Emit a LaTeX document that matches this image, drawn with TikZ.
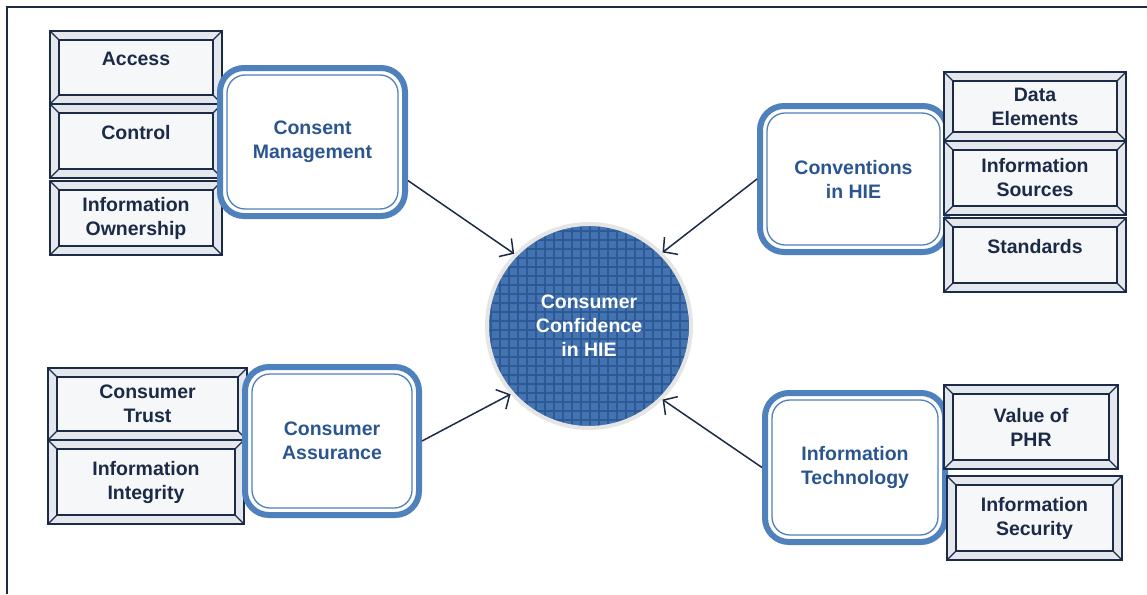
\documentclass[tikz,border=0pt]{standalone}
\usepackage{fontspec}
\setmainfont{Liberation Sans}
\usetikzlibrary{arrows.meta}
\definecolor{navy}{HTML}{1B2A47}
\definecolor{bblue}{HTML}{4F81BD}
\definecolor{tblue}{HTML}{2B5590}
\definecolor{cfill}{HTML}{4373B0}
\definecolor{cgrid}{HTML}{2D5A95}
\definecolor{clight}{HTML}{7196C8}
\definecolor{bevelc}{HTML}{E4E7EC}
\definecolor{innerc}{HTML}{F6F7F9}
\tikzset{
  txt/.style={font=\bfseries\fontsize{19.5}{24}\selectfont, align=center},
  bevelbox/.style={txt, draw=navy, line width=2pt, fill=bevelc, text=navy, inner sep=0pt,
    path picture={
      \fill[innerc] ([shift={(9pt,9pt)}]path picture bounding box.south west) rectangle ([shift={(-9pt,-9pt)}]path picture bounding box.north east);
      \draw[navy, line width=1.2pt]
        (path picture bounding box.south west) -- ([shift={(9pt,9pt)}]path picture bounding box.south west)
        (path picture bounding box.north west) -- ([shift={(9pt,-9pt)}]path picture bounding box.north west)
        (path picture bounding box.north east) -- ([shift={(-9pt,-9pt)}]path picture bounding box.north east)
        (path picture bounding box.south east) -- ([shift={(-9pt,9pt)}]path picture bounding box.south east);
      \draw[navy, line width=2pt] ([shift={(9pt,9pt)}]path picture bounding box.south west) rectangle ([shift={(-9pt,-9pt)}]path picture bounding box.north east);
    }},
  rbox/.style={txt, draw=bblue, line width=6pt, rounded corners=24pt, fill=white, text=tblue, inner sep=0pt,
    path picture={
      \draw[bblue, line width=1.3pt, rounded corners=18pt] ([shift={(7pt,7pt)}]path picture bounding box.south west) rectangle ([shift={(-7pt,-7pt)}]path picture bounding box.north east);
    }},
  hub/.style={txt, circle, minimum size=204pt, inner sep=0pt, fill=cfill, draw=black!10, line width=4pt, text=white,
    path picture={
      \draw[clight, line width=0.8pt, step=9pt, shift={(4.5pt,4.5pt)}] ([shift={(-9pt,-9pt)}]path picture bounding box.south west) grid (path picture bounding box.north east);
      \draw[cgrid, line width=1.6pt, step=9pt] (path picture bounding box.south west) grid (path picture bounding box.north east);
    }},
  link/.style={navy, line width=1.5pt, -{Straight Barb[length=10pt,width=22pt]}}
}
\begin{document}
\begin{tikzpicture}[x=1pt,y=-1pt]
\useasboundingbox (0,0) rectangle (1147,594);
\fill[white] (0,0) rectangle (1147,594);
\draw[navy, line width=2.4pt] (7,594) -- (7,7) -- (1147,7);

% centre
\node[hub] (cc) at (589,326) {Consumer\\Confidence\\in HIE};

% top left group
\node[bevelbox, minimum width=172pt, minimum height=73pt] (ac) at (136,67.5) {Access\\[-6pt]\mbox{}};
\node[bevelbox, minimum width=172pt, minimum height=74pt] (co) at (136,141) {Control\\[-6pt]\mbox{}};
\node[bevelbox, minimum width=172pt, minimum height=74pt] (io) at (136,218) {Information\\Ownership};
\node[rbox, minimum width=185pt, minimum height=148pt] (cm) at (312.5,142) {Consent\\Management};

% top right group
\node[rbox, minimum width=187pt, minimum height=146pt] (cv) at (853.5,179) {Conventions\\in HIE};
\node[bevelbox, minimum width=182pt, minimum height=69pt] (de) at (1035,106.5) {Data\\Elements};
\node[bevelbox, minimum width=182pt, minimum height=74pt] (is) at (1035,178) {Information\\Sources};
\node[bevelbox, minimum width=182pt, minimum height=74pt] (st) at (1035,255) {Standards\\[-6pt]\mbox{}};

% bottom left group
\node[bevelbox, minimum width=199pt, minimum height=72pt] (ct) at (147.5,404) {Consumer\\Trust};
\node[bevelbox, minimum width=196pt, minimum height=84pt] (ii) at (146,482) {Information\\Integrity};
\node[rbox, minimum width=174pt, minimum height=148pt] (ca) at (332,441) {Consumer\\Assurance};

% bottom right group
\node[rbox, minimum width=180pt, minimum height=149pt] (it) at (855,467.5) {Information\\Technology};
\node[bevelbox, minimum width=174pt, minimum height=84pt] (vp) at (1031,427) {Value of\\PHR};
\node[bevelbox, minimum width=175pt, minimum height=84pt] (se) at (1034.5,518) {Information\\Security};

% connectors
\draw[link] (cm.-22.5) -- (cc.136);
\draw[link] (cv.west) -- (cc.45);
\draw[link] (ca.east) -- (cc.221);
\draw[link] (it.west) -- (cc.-45);
\end{tikzpicture}
\end{document}
